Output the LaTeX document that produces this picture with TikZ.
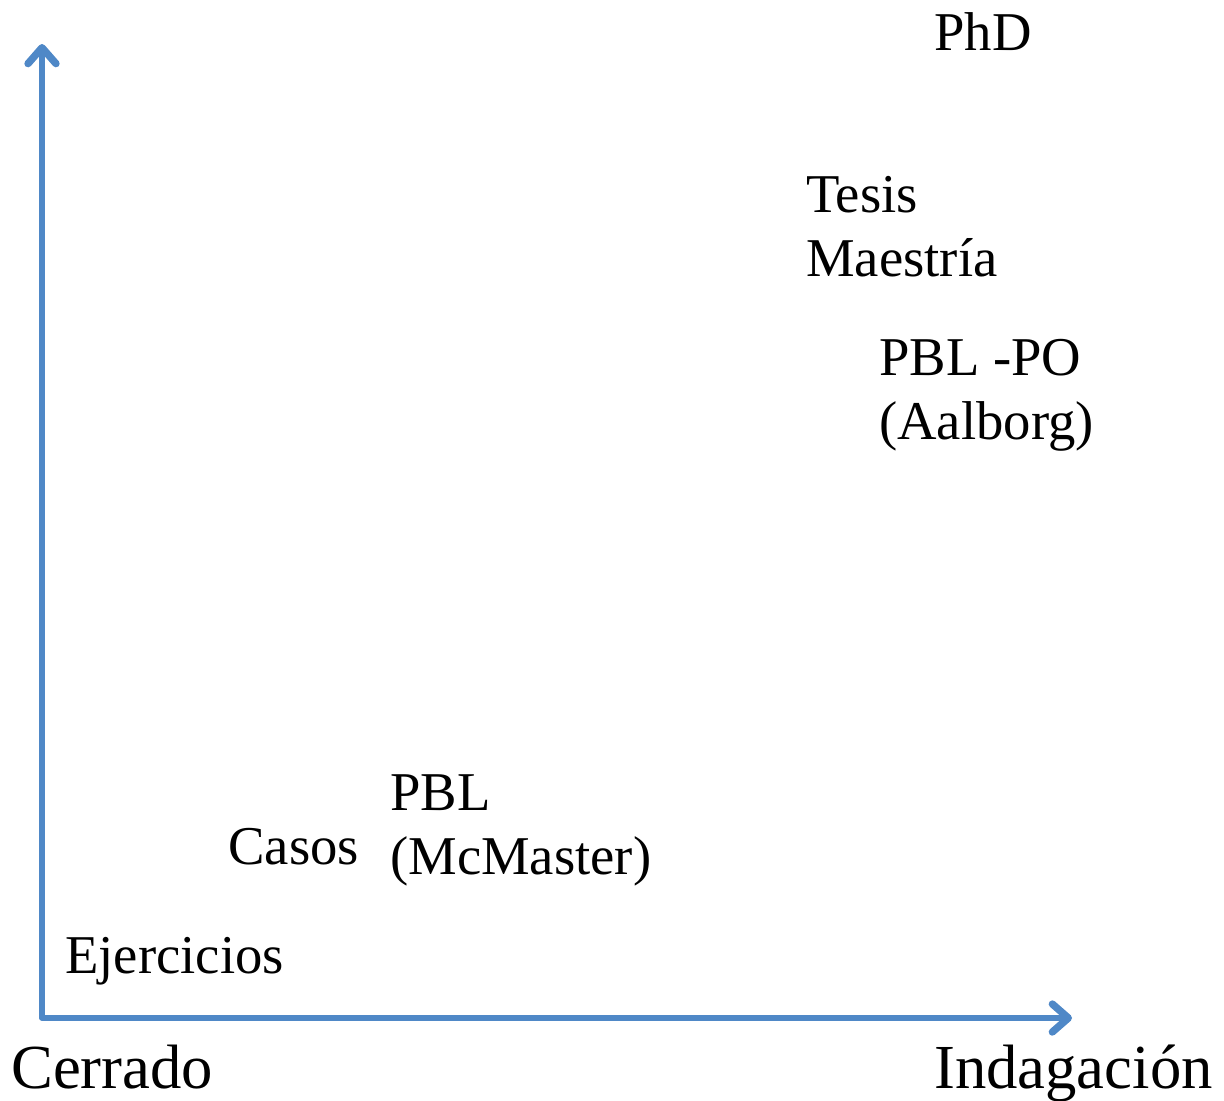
\documentclass[tikz,border=0pt]{standalone}
\usepackage{fontspec}
\setmainfont{Liberation Serif}
\usetikzlibrary{arrows.meta}
\definecolor{axisblue}{RGB}{79,136,199}

\begin{document}
\begin{tikzpicture}[line cap=round,line join=round,x=0.75pt,y=0.75pt,
  axis/.style={color=axisblue,line width=4pt,-{Straight Barb[round,length=12pt,width=21pt,line width=5.5pt]}},
  lab/.style={anchor=base west,inner sep=0pt,align=left,font=\fontsize{41}{48}\selectfont},
  axlab/.style={anchor=base west,inner sep=0pt,font=\fontsize{47}{54}\selectfont}]
\useasboundingbox (0,0) rectangle (1224,-1100);
% axes
\coordinate (O) at (42,-1018);
\coordinate (ytop) at (42,-44);
\coordinate (xend) at (1072,-1018);
\draw[axis] (O) -- (ytop);
\draw[axis] (O) -- (xend);
\node[axlab] (cerrado) at (11,-1088) {Cerrado};
\node[axlab] (indag) at (934,-1088) {Indagación};
% methods (two-line labels sit on their last baseline)
\node[lab] (ejer) at (65,-973) {Ejercicios};
\node[lab] (casos) at (228,-864) {Casos};
\node[lab] (pbl) at (390,-874) {PBL\\(McMaster)};
\node[lab] (pblpo) at (879,-439) {PBL -PO\\(Aalborg)};
\node[lab] (tesis) at (806,-276) {Tesis\\Maestría};
\node[lab] (phd) at (934,-50) {PhD};
\end{tikzpicture}
\end{document}
